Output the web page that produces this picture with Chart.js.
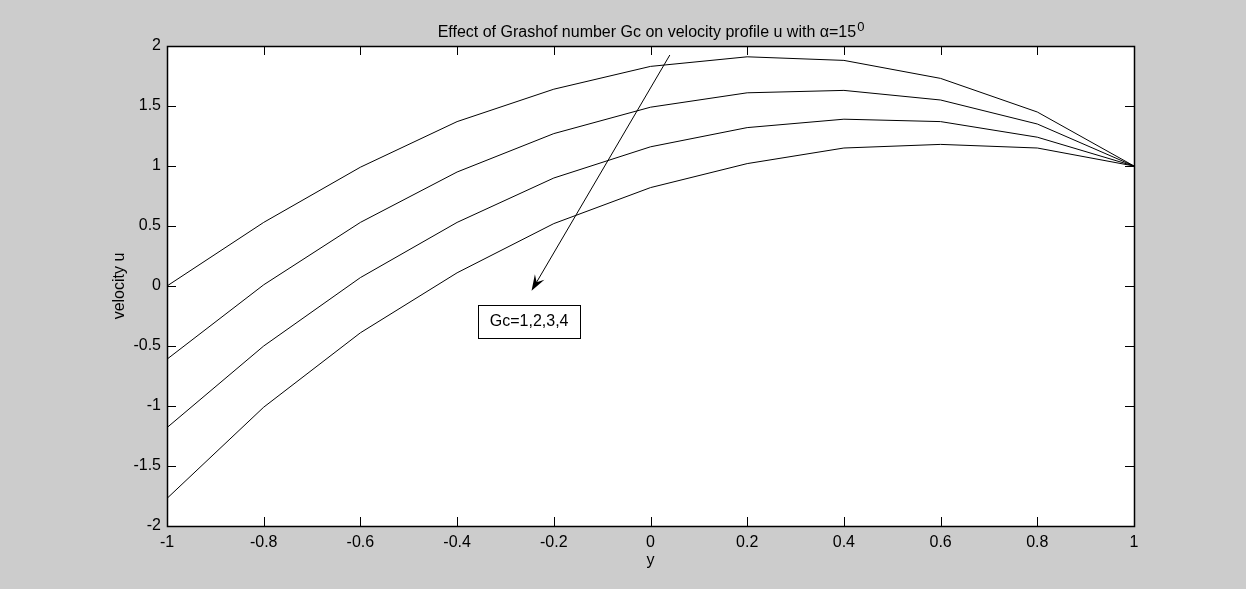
<!DOCTYPE html>
<html lang="en">
<head>
<meta charset="UTF-8">
<title>Effect of Grashof number Gc on velocity profile u</title>
<script src="https://cdn.jsdelivr.net/npm/chart.js@4.4.1/dist/chart.umd.min.js"></script>
<style>
    body {
        margin: 0;
        background-color: #cccccc;
    }
</style>
</head>
<body>
<canvas id="velChart" width="1246" height="589"></canvas>
<script>
// y positions across the channel
const yPoints = [-1, -0.8, -0.6, -0.4, -0.2, 0, 0.2, 0.4, 0.6, 0.8, 1];

// velocity u for Gc = 1, 2, 3, 4
const uGc1 = [-1.77, -1.01, -0.39, 0.11, 0.52, 0.82, 1.02, 1.15, 1.18, 1.15, 1.0];
const uGc2 = [-1.18, -0.50, 0.07, 0.53, 0.90, 1.16, 1.32, 1.39, 1.37, 1.24, 1.0];
const uGc3 = [-0.61, 0.01, 0.53, 0.95, 1.27, 1.49, 1.61, 1.63, 1.55, 1.35, 1.0];
const uGc4 = [0.00, 0.53, 0.99, 1.37, 1.64, 1.83, 1.91, 1.88, 1.73, 1.45, 1.0];

const seriesNames = ['Gc=1', 'Gc=2', 'Gc=3', 'Gc=4'];
const seriesValues = [uGc1, uGc2, uGc3, uGc4];

// annotation: arrow from (y, u) to (y, u), label box centred at (y, u)
const arrowFrom = [0.04, 1.925];
const arrowTo = [-0.246, -0.04];
const labelAt = [-0.251, -0.29];
const labelText = 'Gc=1,2,3,4';

const FONT = '"Liberation Sans", Arial, sans-serif';
const TICK_LEN = 9;

const fmt = v => String(Math.round(v * 10) / 10);

// MATLAB-like frame: grey figure, white axes, inward ticks on all sides, texts
const matlabFrame = {
    id: 'matlabFrame',
    beforeDraw(chart) {
        const { ctx, chartArea: a } = chart;
        ctx.save();
        ctx.fillStyle = '#cccccc';
        ctx.fillRect(0, 0, chart.width, chart.height);
        ctx.fillStyle = '#ffffff';
        ctx.fillRect(a.left, a.top, a.right - a.left, a.bottom - a.top);
        ctx.restore();
    },
    afterDatasetsDraw(chart) {
        const { ctx, chartArea: a, scales: { x, y } } = chart;
        ctx.save();
        ctx.strokeStyle = '#000';
        ctx.lineWidth = 1;
        ctx.beginPath();
        x.ticks.forEach(t => {
            const px = Math.round(x.getPixelForValue(t.value)) + 0.5;
            ctx.moveTo(px, a.bottom);
            ctx.lineTo(px, a.bottom - TICK_LEN);
            ctx.moveTo(px, a.top);
            ctx.lineTo(px, a.top + TICK_LEN);
        });
        y.ticks.forEach(t => {
            const py = Math.round(y.getPixelForValue(t.value)) + 0.5;
            ctx.moveTo(a.left, py);
            ctx.lineTo(a.left + TICK_LEN, py);
            ctx.moveTo(a.right, py);
            ctx.lineTo(a.right - TICK_LEN, py);
        });
        ctx.stroke();
        ctx.lineWidth = 1.5;
        ctx.strokeRect(Math.round(a.left) + 0.5, Math.round(a.top) + 0.5,
            Math.round(a.right - a.left), Math.round(a.bottom - a.top));

        // arrow
        const x0 = x.getPixelForValue(arrowFrom[0]), y0 = y.getPixelForValue(arrowFrom[1]);
        const x1 = x.getPixelForValue(arrowTo[0]), y1 = y.getPixelForValue(arrowTo[1]);
        const ang = Math.atan2(y1 - y0, x1 - x0);
        const ux = Math.cos(ang), uy = Math.sin(ang);
        ctx.lineWidth = 1;
        ctx.beginPath();
        ctx.moveTo(x0, y0);
        ctx.lineTo(x1 - ux * 8, y1 - uy * 8);
        ctx.stroke();
        ctx.fillStyle = '#000';
        ctx.beginPath();
        ctx.moveTo(x1, y1);
        ctx.lineTo(x1 - ux * 16 - uy * 5.5, y1 - uy * 16 + ux * 5.5);
        ctx.lineTo(x1 - ux * 10, y1 - uy * 10);
        ctx.lineTo(x1 - ux * 16 + uy * 5.5, y1 - uy * 16 - ux * 5.5);
        ctx.closePath();
        ctx.fill();

        // label box
        const bx = x.getPixelForValue(labelAt[0]), by = y.getPixelForValue(labelAt[1]);
        ctx.fillStyle = '#fff';
        ctx.fillRect(Math.round(bx - 51) + 0.5, Math.round(by - 16) + 0.5, 102, 33);
        ctx.strokeRect(Math.round(bx - 51) + 0.5, Math.round(by - 16) + 0.5, 102, 33);
        ctx.fillStyle = '#000';
        ctx.font = '16px ' + FONT;
        ctx.textAlign = 'center';
        ctx.textBaseline = 'middle';
        ctx.fillText(labelText, bx, by + 1);

        // axis titles
        const cx = (a.left + a.right) / 2;
        ctx.fillText('y', cx, 561);
        ctx.save();
        ctx.translate(120, (a.top + a.bottom) / 2);
        ctx.rotate(-Math.PI / 2);
        ctx.fillText('velocity u', 0, 0);
        ctx.restore();

        // title with alpha and superscript
        const main = 'Effect of Grashof number Gc on velocity profile u with \u03b1=15';
        const sup = '0';
        ctx.font = '16px ' + FONT;
        const wMain = ctx.measureText(main).width;
        ctx.font = '13px ' + FONT;
        const wSup = ctx.measureText(sup).width;
        const start = cx - (wMain + wSup) / 2;
        ctx.textAlign = 'left';
        ctx.textBaseline = 'alphabetic';
        ctx.font = '16px ' + FONT;
        ctx.fillText(main, start, 37);
        ctx.font = '13px ' + FONT;
        ctx.fillText(sup, start + wMain + 1, 31);
        ctx.restore();
    }
};

const tickFont = { family: FONT, size: 16 };

new Chart(document.getElementById('velChart'), {
    type: 'line',
    data: {
        datasets: seriesValues.map((vals, i) => ({
            label: seriesNames[i],
            data: yPoints.map((yv, j) => ({ x: yv, y: vals[j] })),
            borderColor: '#000000',
            borderWidth: 1,
            pointRadius: 0,
            tension: 0,
            fill: false
        }))
    },
    options: {
        responsive: false,
        animation: false,
        layout: { padding: { left: 0, right: 112, top: 46, bottom: 0 } },
        plugins: {
            legend: { display: false },
            title: { display: false },
            tooltip: { enabled: false }
        },
        scales: {
            x: {
                type: 'linear',
                min: -1,
                max: 1,
                ticks: { stepSize: 0.2, padding: 7, color: '#000', font: tickFont, callback: fmt, maxRotation: 0 },
                grid: { display: false, drawTicks: false },
                border: { display: false },
                afterFit(s) { s.height = 63; }
            },
            y: {
                type: 'linear',
                min: -2,
                max: 2,
                ticks: { stepSize: 0.5, padding: 6, color: '#000', font: tickFont, callback: fmt },
                grid: { display: false, drawTicks: false },
                border: { display: false },
                afterFit(s) { s.width = 167; }
            }
        }
    },
    plugins: [matlabFrame]
});
</script>
</body>
</html>
